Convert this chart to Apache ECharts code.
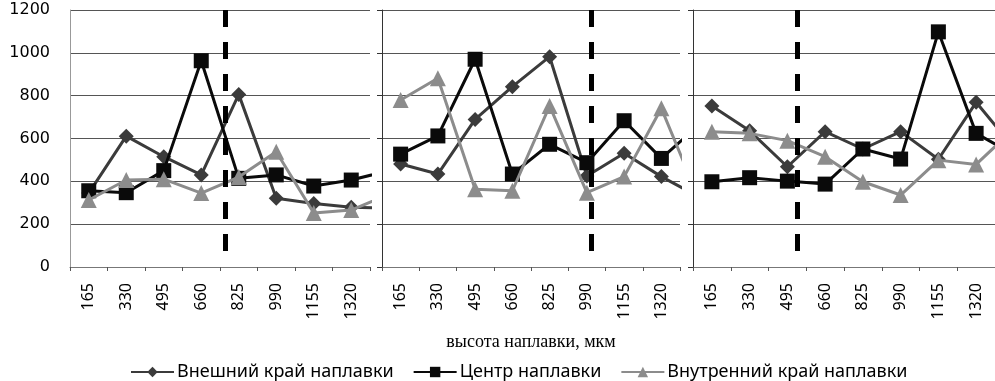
<!DOCTYPE html>
<html>
<head>
<meta charset="utf-8">
<script src="https://cdn.jsdelivr.net/npm/echarts@6/dist/echarts.min.js"></script>
<style>
  html, body { margin: 0; padding: 0; background: #fff; }
  #chart { width: 995px; height: 381px; }
</style>
</head>
<body>
<div id="chart"></div>
<script>
// подписи по оси X (одинаковые на всех трёх графиках)
const heights = ['165', '330', '495', '660', '825', '990', '1155', '1320']
// положение точек, девятая точка уходит за край графика
const xPos = [165, 330, 495, 660, 825, 990, 1155, 1320, 1485]

const outer1 = [345, 611, 515, 430, 806, 321, 297, 279, 275]
const center1 = [356, 347, 450, 963, 414, 430, 378, 406, 450]
const inner1 = [313, 406, 410, 345, 420, 538, 252, 266, 339]

const outer2 = [481, 434, 689, 842, 982, 425, 531, 422, 328]
const center2 = [527, 612, 970, 434, 573, 487, 683, 507, 663]
const inner2 = [780, 881, 363, 356, 752, 347, 422, 741, 321]

const outer3 = [752, 636, 468, 632, 551, 632, 503, 769, 556]
const center3 = [398, 417, 401, 387, 551, 504, 1098, 624, 524]
const inner3 = [632, 624, 590, 515, 398, 336, 499, 479, 645]

// граница (пунктир) на каждом графике
const boundary = [764, 1011, 536]

const yTicks = [0, 200, 400, 600, 800, 1000, 1200]

const names = ['Внешний край наплавки', 'Центр наплавки', 'Внутренний край наплавки']
const colors = ['#3b3b3b', '#0a0a0a', '#8c8c8c']
const symbols = ['diamond', 'rect', 'triangle']
const symbolSizes = [15, 15, 16]

const panels = [
  [outer1, center1, inner1],
  [outer2, center2, inner2],
  [outer3, center3, inner3]
]

const grids = [
  { left: 70, width: 300, top: 10, bottom: 114 },
  { left: 382, width: 298, top: 10, bottom: 114 },
  { left: 693, width: 302, top: 10, bottom: 114 }
]

const xAxes = []
const yAxes = []
const series = []

grids.forEach((g, i) => {
  // видимая ось категорий
  xAxes.push({
    type: 'category',
    gridIndex: i,
    data: heights,
    boundaryGap: true,
    axisLine: { lineStyle: { color: '#777', width: 1 } },
    axisTick: { show: true, length: 4, lineStyle: { color: '#555' } },
    axisLabel: {
      rotate: 90,
      margin: 16,
      color: '#000',
      fontFamily: 'Noto Sans',
      fontSize: 16
    },
    name: i === 1 ? 'высота наплавки, мкм' : '',
    nameLocation: 'middle',
    nameGap: 66,
    nameTextStyle: { fontFamily: 'Liberation Serif', fontSize: 18, color: '#000' }
  })
  // скрытая числовая ось для точек
  xAxes.push({
    type: 'value',
    gridIndex: i,
    min: 82.5,
    max: 1402.5,
    show: false
  })
  yAxes.push({
    type: 'value',
    gridIndex: i,
    min: yTicks[0],
    max: yTicks[yTicks.length - 1],
    interval: 200,
    axisLine: { show: true, lineStyle: { color: i === 0 ? '#999' : '#333', width: 1 } },
    axisTick: { show: i !== 0, length: 5, lineStyle: { color: '#333' } },
    axisLabel: {
      show: i === 0,
      margin: 20,
      color: '#000',
      fontFamily: 'DejaVu Sans',
      fontSize: 16,
      formatter: v => String(v)
    },
    splitLine: { lineStyle: { color: '#555', width: 1 } }
  })

  panels[i].forEach((vals, k) => {
    const s = {
      name: names[k],
      type: 'line',
      xAxisIndex: i * 2 + 1,
      yAxisIndex: i,
      data: vals.map((v, j) => [xPos[j], v]),
      symbol: symbols[k],
      symbolSize: symbolSizes[k],
      showAllSymbol: true,
      clip: true,
      lineStyle: { color: colors[k], width: 3 },
      itemStyle: { color: colors[k] },
      z: 2 + k
    }
    if (k === 1) {
      s.markLine = {
        silent: true,
        symbol: ['none', 'none'],
        label: { show: false },
        lineStyle: { color: '#000', width: 5, type: [17, 15] },
        data: [[{ coord: [boundary[i], 1200] }, { coord: [boundary[i], 47] }]]
      }
    }
    series.push(s)
  })
})

const chart = echarts.init(document.getElementById('chart'))
chart.setOption({
  animation: false,
  grid: grids,
  xAxis: xAxes,
  yAxis: yAxes,
  legend: {
    data: names,
    top: 358,
    left: 125,
    itemWidth: 43,
    itemHeight: 13,
    itemGap: 19,
    textStyle: { fontFamily: 'Noto Sans', fontSize: 18, color: '#000', padding: [0, 0, 0, -2] }
  },
  series: series
})
</script>
</body>
</html>
